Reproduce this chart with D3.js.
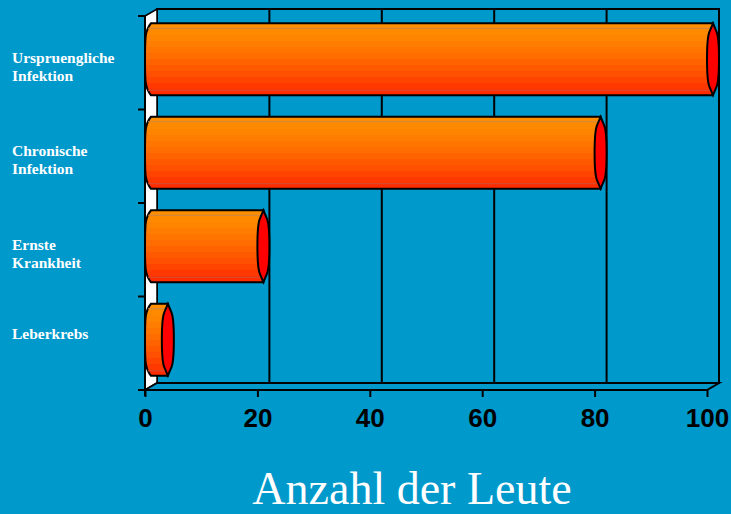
<!DOCTYPE html>
<meta charset="utf-8">
<script src="https://d3js.org/d3.v7.min.js"></script>
<style>
  body { margin: 0; background: #0099cc; }
  svg { display: block; }
</style>
<div id="chart"></div>

<script>
// data
var categories = ["Urspruengliche Infektion", "Chronische Infektion", "Ernste Krankheit", "Leberkrebs"];
var values = [100, 80, 20, 3];
var xTicks = [0, 20, 40, 60, 80, 100];
var xTitle = "Anzahl der Leute";

var W = 731, H = 514;
// 3d depth offset (front -> back)
var dx = 12, dy = -7;

var svg = d3.select("#chart").append("svg")
    .attr("width", W)
    .attr("height", H);

svg.append("rect").attr("width", W).attr("height", H).attr("fill", "#0099cc");

var x = d3.scaleLinear().domain([0, 100]).range([145, 707]);
var y = d3.scaleBand().domain(categories).range([16, 390])
    .paddingInner(0.23).paddingOuter(0.115);

var x0 = x.range()[0], x1 = x.range()[1];
var y0 = y.range()[0], y1 = y.range()[1];

// stripe gradient for the bars
var stripes = ["#ff8e00", "#ff8a00", "#ff8400", "#ff7d00", "#ff7500", "#ff6c00",
               "#ff6300", "#ff5900", "#ff4f00", "#ff4400", "#ff3800", "#ff2c00"];
var grad = svg.append("defs").append("linearGradient")
    .attr("id", "barGrad")
    .attr("x1", 0).attr("y1", 0).attr("x2", 0).attr("y2", 1);
stripes.forEach(function(c, i) {
  grad.append("stop").attr("offset", i / stripes.length).attr("stop-color", c);
  grad.append("stop").attr("offset", (i + 1) / stripes.length).attr("stop-color", c);
});

// back wall
svg.append("rect")
    .attr("x", x0 + dx).attr("y", y0 + dy)
    .attr("width", x1 - x0).attr("height", y1 - y0)
    .attr("fill", "none").attr("stroke", "#000").attr("stroke-width", 2);

// grid lines on back wall
svg.selectAll(".grid")
  .data(xTicks.slice(1, -1))
  .enter().append("line")
    .attr("x1", d => x(d) + dx).attr("x2", d => x(d) + dx)
    .attr("y1", y0 + dy).attr("y2", y1 + dy)
    .attr("stroke", "#000").attr("stroke-width", 2);

// left wall
svg.append("polygon")
    .attr("points", [[x0, y0], [x0 + dx, y0 + dy], [x0 + dx, y1 + dy], [x0, y1]].join(" "))
    .attr("fill", "#fff").attr("stroke", "#000").attr("stroke-width", 1.5);

// floor
svg.append("polygon")
    .attr("points", [[x0, y1], [x0 + dx, y1 + dy], [x1 + dx, y1 + dy], [x1, y1]].join(" "))
    .attr("fill", "#0099cc").attr("stroke", "#000").attr("stroke-width", 2);

// category ticks on the front axis
svg.selectAll(".ytick")
  .data(d3.range(categories.length + 1))
  .enter().append("line")
    .attr("x1", x0 - 7).attr("x2", x0)
    .attr("y1", i => y0 + i * y.step()).attr("y2", i => y0 + i * y.step())
    .attr("stroke", "#000").attr("stroke-width", 2);
svg.append("line")
    .attr("x1", x0).attr("x2", x0).attr("y1", y0).attr("y2", y1 + 6)
    .attr("stroke", "#000").attr("stroke-width", 2);

// bars (drawn at mid depth)
var mx = dx / 2, my = dy / 2;
var rx = 6;
var bars = svg.selectAll(".bar")
  .data(categories.map((c, i) => ({cat: c, v: values[i]})))
  .enter().append("g").attr("class", "bar");

function bodyPath(d) {
  var t = y(d.cat) + my, h = y.bandwidth(), b = t + h;
  var xa = x(0) + mx, xb = x(d.v) + mx;
  return "M" + xb + "," + t + " L" + xa + "," + t +
    " C" + (xa - rx) + "," + (t + h * 0.1) + " " + (xa - rx) + "," + (t + h * 0.2) + " " + (xa - rx) + "," + (t + h / 2) +
    " C" + (xa - rx) + "," + (b - h * 0.2) + " " + (xa - rx) + "," + (b - h * 0.1) + " " + xa + "," + b +
    " L" + xb + "," + b + " Z";
}
function capPath(d) {
  var t = y(d.cat) + my, h = y.bandwidth(), b = t + h, m = t + h / 2;
  var xb = x(d.v) + mx;
  return "M" + xb + "," + t +
    " L" + (xb + rx * 0.6) + "," + (t + h * 0.12) +
    " Q" + (xb + rx) + "," + (t + h * 0.2) + " " + (xb + rx) + "," + m +
    " Q" + (xb + rx) + "," + (b - h * 0.2) + " " + (xb + rx * 0.6) + "," + (b - h * 0.12) +
    " L" + xb + "," + b +
    " L" + (xb - rx * 0.6) + "," + (b - h * 0.12) +
    " Q" + (xb - rx) + "," + (b - h * 0.2) + " " + (xb - rx) + "," + m +
    " Q" + (xb - rx) + "," + (t + h * 0.2) + " " + (xb - rx * 0.6) + "," + (t + h * 0.12) + " Z";
}

bars.append("path")
    .attr("d", bodyPath)
    .attr("fill", "url(#barGrad)")
    .attr("stroke", "#000").attr("stroke-width", 2);

// thin highlight lines near top and bottom
bars.append("line")
    .attr("x1", x(0) + mx - 3).attr("x2", d => x(d.v) + mx)
    .attr("y1", d => y(d.cat) + my + 5).attr("y2", d => y(d.cat) + my + 5)
    .attr("stroke", "#c8844a").attr("stroke-width", 1);
bars.append("line")
    .attr("x1", x(0) + mx - 3).attr("x2", d => x(d.v) + mx)
    .attr("y1", d => y(d.cat) + my + y.bandwidth() - 5).attr("y2", d => y(d.cat) + my + y.bandwidth() - 5)
    .attr("stroke", "#d0503a").attr("stroke-width", 1);

bars.append("path")
    .attr("d", capPath)
    .attr("fill", "#ff0000")
    .attr("stroke", "#000").attr("stroke-width", 2);

// x axis ticks and labels
var xAxis = svg.append("g")
    .attr("transform", "translate(0," + y1 + ")")
    .call(d3.axisBottom(x).tickValues(xTicks).tickSize(7).tickPadding(12));
xAxis.select(".domain").remove();
xAxis.selectAll(".tick line").attr("stroke", "#000").attr("stroke-width", 2);
xAxis.selectAll(".tick text")
    .attr("fill", "#000")
    .attr("font-family", "Liberation Sans, Arial, sans-serif")
    .attr("font-weight", "bold")
    .attr("font-size", "26px");

// category labels
svg.selectAll(".cat")
  .data(categories)
  .enter().append("text")
    .attr("class", "cat")
    .attr("x", 12)
    .attr("fill", "#fff")
    .attr("font-family", "Liberation Serif, Times New Roman, serif")
    .attr("font-weight", "bold")
    .attr("font-size", "15.5px")
    .each(function(c) {
      var lines = c.split(" ");
      var base = y(c) + y.bandwidth() / 2 - (lines.length > 1 ? 0 : 4);
      d3.select(this).selectAll("tspan")
        .data(lines).enter().append("tspan")
          .attr("x", 12)
          .attr("y", (l, i) => base + i * 18)
          .text(l => l);
    });

// axis title
svg.append("text")
    .attr("x", 412).attr("y", 504)
    .attr("text-anchor", "middle")
    .attr("fill", "#fff")
    .attr("font-family", "Liberation Serif, Times New Roman, serif")
    .attr("font-size", "46px")
    .text(xTitle);
</script>
